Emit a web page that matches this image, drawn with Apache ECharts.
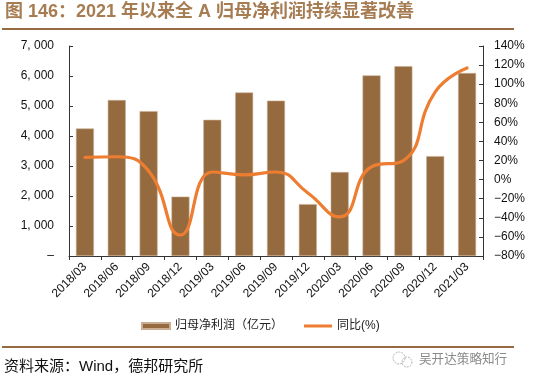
<!DOCTYPE html>
<html><head><meta charset="utf-8">
<style>html,body{margin:0;padding:0;background:#fff}#c{width:539px;height:383px}</style>
<script src="https://cdn.jsdelivr.net/npm/echarts@6/dist/echarts.min.js"></script>
</head><body><div id="c"></div>
<script>
const categories = ['2018/03','2018/06','2018/09','2018/12','2019/03','2019/06','2019/09','2019/12','2020/03','2020/06','2020/09','2020/12','2021/03'];
const profit = [4250,5200,4830,1980,4540,5450,5180,1730,2800,6020,6330,3330,6100];
const yoy = [23.4,24,9,-58,8,5,8,-14,-39,13.5,20,92,117];
const titleText = '图 146：2021 年以来全 A 归母净利润持续显著改善';
const sourceText = '资料来源：Wind，德邦研究所';
const watermark = '吴开达策略知行';
const nameBar = '归母净利润（亿元）';
const nameLine = '同比(%)';
const brown = '#956A3F';
const cjk = '"Liberation Sans","Noto Sans CJK SC",sans-serif';
const chart = echarts.init(document.getElementById('c'), null, {renderer:'canvas'});
const axisLine = {show:true, lineStyle:{color:'#333', width:1}};
chart.setOption({
  animation:false,
  backgroundColor:'#fff',
  textStyle:{fontFamily:cjk},
  grid:{left:69, right:56, top:46, bottom:127, containLabel:false},
  legend:{
    left:141, top:320, padding:0, itemGap:21, itemWidth:28, itemHeight:6,
    textStyle:{fontSize:12, color:'#222', fontFamily:cjk},
    data:[{name:nameBar, icon:'rect'},{name:nameLine, icon:'path://M0 0H28V3H0Z'}]
  },
  xAxis:{type:'category', data:categories, boundaryGap:true,
    axisLine:axisLine,
    axisTick:{show:true, alignWithLabel:false, length:4, lineStyle:{color:'#333'}},
    axisLabel:{rotate:45, fontSize:12, color:'#111', margin:9, interval:0}},
  yAxis:[
    {type:'value', min:0, max:7000, interval:1000, splitLine:{show:false},
     axisLine:axisLine, axisTick:{show:true, length:4, inside:true, lineStyle:{color:'#333'}},
     axisLabel:{fontSize:12, color:'#111', margin:15,
       formatter:v=> v===0 ? '–' : (v/1000)+', '+'000'}},
    {type:'value', min:-80, max:140, interval:20, position:'right', splitLine:{show:false},
     axisLine:axisLine, axisTick:{show:true, length:4, inside:true, lineStyle:{color:'#333'}},
     axisLabel:{fontSize:12, color:'#111', margin:11, formatter:v=> (v<0?'−'+(-v):v)+'%'}}
  ],
  series:[
    {name:nameBar, type:'bar', data:profit, barWidth:18, yAxisIndex:0,
     itemStyle:{color:brown, borderColor:'#C9AE93', borderWidth:0.6}},
    {name:nameLine, type:'line', data:yoy, yAxisIndex:1, smooth:0.5, symbol:'none',
     lineStyle:{color:'#ED7D31', width:3.2, cap:'round'}, itemStyle:{color:'#ED7D31'}}
  ],
  graphic:[
    {type:'text', left:5, top:3, style:{text:titleText, fill:'#A67C52', font:'bold 18px "Liberation Sans","Noto Sans CJK SC",sans-serif'}},
    {type:'rect', shape:{x:2,y:28,width:512,height:2}, style:{fill:brown}},
    {type:'rect', shape:{x:2,y:346,width:512,height:2}, style:{fill:brown}},
    {type:'text', left:4, top:359, style:{text:sourceText, fill:'#111', font:'15px "Liberation Sans","Noto Sans CJK SC",sans-serif'}},
    {type:'text', left:419, top:352, style:{text:watermark, fill:'#8a8a8a', font:'12.6px "Noto Sans CJK SC",sans-serif'}},
    {type:'circle', shape:{cx:399,cy:358,r:6}, style:{fill:'none', stroke:'#b5b5b5', lineWidth:1, lineDash:[2,1]}},
    {type:'circle', shape:{cx:407,cy:362,r:5}, style:{fill:'none', stroke:'#b5b5b5', lineWidth:1, lineDash:[2,1]}}
  ]
});
</script></body></html>
